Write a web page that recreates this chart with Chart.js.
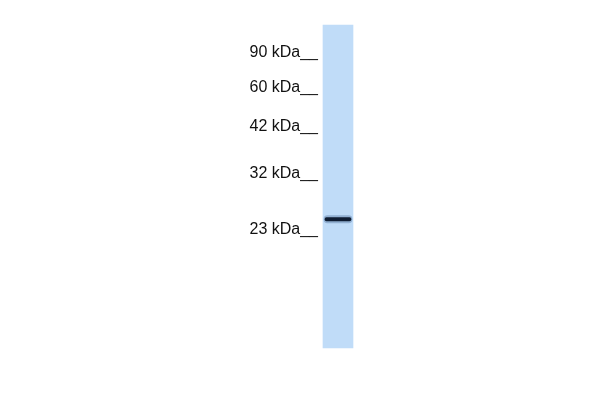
<!DOCTYPE html>
<html>
<head>
<meta charset="utf-8">
<script src="https://cdn.jsdelivr.net/npm/chart.js@4/dist/chart.umd.min.js"></script>
<style>
  html, body { margin: 0; padding: 0; background: #ffffff; }
  #wrap { width: 600px; height: 400px; }
</style>
</head>
<body>
<div id="wrap"><canvas id="BlotChart"></canvas></div>
<script>
// Marker ladder (kDa) and where each one ran on the gel (migration, px from top)
const markerSizes = [90, 60, 42, 32, 23];
const markerMigration = [52.5, 87.5, 127, 174, 229.5];

// Sample lane: centre on the x axis and migration range it covers
const laneCentre = [338];
const laneSpan = [25, 348];

// Detected band(s) in the lane: migration start/end
const bandTop = [217.5];
const bandBottom = [221];

function DrawBlot() {

    let laneData = [];
    for (let i = 0; i < laneCentre.length; i++) {
        laneData.push({ x: laneCentre[i], y: laneSpan });
    }

    let bandData = [];
    let haloData = [];
    for (let i = 0; i < bandTop.length; i++) {
        bandData.push({ x: laneCentre[0], y: [bandTop[i], bandBottom[i]] });
        haloData.push({ x: laneCentre[0], y: [bandTop[i] - 2, bandBottom[i] + 2] });
    }

    const config = {
        type: 'bar',
        data: {
            datasets: [
                {
                    label: 'Band',
                    data: bandData,
                    backgroundColor: '#0f1d33',
                    barThickness: 26,
                    borderRadius: 2,
                    borderSkipped: false,
                    grouped: false,
                    order: 1
                },
                {
                    label: 'Halo',
                    data: haloData,
                    backgroundColor: 'rgba(60, 95, 140, 0.35)',
                    barThickness: 28,
                    borderRadius: 4,
                    borderSkipped: false,
                    grouped: false,
                    order: 2
                },
                {
                    label: 'Lane',
                    data: laneData,
                    backgroundColor: '#c0dcf8',
                    barThickness: 30,
                    grouped: false,
                    order: 3
                }
            ]
        },
        options: {
            responsive: true,
            maintainAspectRatio: false,
            animation: false,
            layout: { padding: 0 },
            plugins: {
                legend: { display: false },
                tooltip: { enabled: false }
            },
            scales: {
                x: {
                    type: 'linear',
                    min: 0,
                    max: 600,
                    offset: false,
                    display: false
                },
                y: {
                    type: 'linear',
                    min: 0,
                    max: 400,
                    reverse: true,
                    position: { x: 318 },
                    border: { display: false },
                    grid: { display: false, drawTicks: false },
                    afterBuildTicks: function (axis) {
                        axis.ticks = markerMigration.map(v => ({ value: v }));
                    },
                    // labels sit well inside the area, so no need to pad the chart for them
                    afterFit: function (axis) {
                        axis.paddingTop = 0;
                        axis.paddingBottom = 0;
                        axis.paddingLeft = 0;
                        axis.paddingRight = 0;
                    },
                    ticks: {
                        autoSkip: false,
                        padding: 0,
                        color: '#111111',
                        font: { family: "'Liberation Sans', Arial, sans-serif", size: 16 },
                        callback: function (value, index) {
                            return markerSizes[index] + ' kDa__';
                        }
                    }
                }
            }
        }
    };

    new Chart(document.getElementById('BlotChart'), config);
}

DrawBlot();
</script>
</body>
</html>
